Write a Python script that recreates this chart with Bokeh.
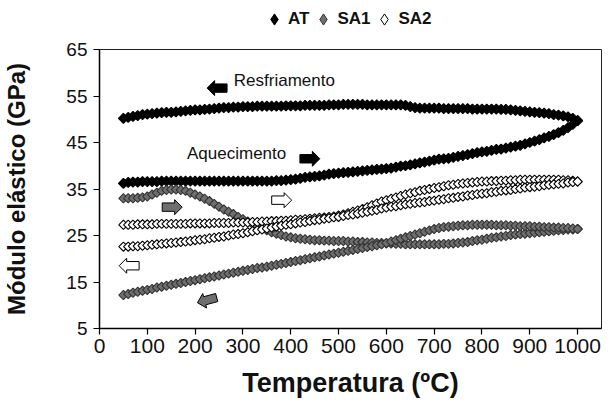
import math
from bokeh.plotting import figure
from bokeh.layouts import column
from bokeh.models import Range1d, FixedTicker, Legend, LegendItem, ColumnDataSource
from bokeh.core.properties import value
from bokeh.embed import file_html
from bokeh.resources import INLINE

# ---------------- data ----------------
temps = [50, 60, 70, 80, 90, 100, 110, 120, 130, 140, 150, 160, 170, 180, 190, 200,
         210, 220, 230, 240, 250, 260, 270, 280, 290, 300, 310, 320, 330, 340, 350,
         360, 370, 380, 390, 400, 410, 420, 430, 440, 450, 460, 470, 480, 490, 500,
         510, 520, 530, 540, 550, 560, 570, 580, 590, 600, 610, 620, 630, 640, 650,
         660, 670, 680, 690, 700, 710, 720, 730, 740, 750, 760, 770, 780, 790, 800,
         810, 820, 830, 840, 850, 860, 870, 880, 890, 900, 910, 920, 930, 940, 950,
         960, 970, 980, 990, 1000]

at_heat = [36.2, 36.4, 36.5, 36.5, 36.6, 36.6, 36.6, 36.6, 36.7, 36.7, 36.7, 36.7, 36.7, 36.7, 36.7, 36.7,
           36.7, 36.7, 36.7, 36.7, 36.7, 36.7, 36.7, 36.7, 36.7, 36.7, 36.7, 36.7, 36.7, 36.7, 36.7,
           36.7, 36.8, 36.8, 36.9, 37.0, 37.1, 37.3, 37.5, 37.6, 37.7, 37.8, 38.0, 38.2, 38.3, 38.4,
           38.5, 38.6, 38.7, 38.8, 38.9, 39.0, 39.1, 39.2, 39.3, 39.4, 39.5, 39.7, 39.9, 40.0, 40.2,
           40.4, 40.6, 40.8, 41.0, 41.2, 41.4, 41.5, 41.6, 41.8, 42.0, 42.2, 42.4, 42.6, 42.8, 43.0,
           43.1, 43.3, 43.5, 43.6, 43.8, 44.0, 44.2, 44.4, 44.7, 45.0, 45.3, 45.6, 46.0, 46.3, 46.7,
           47.1, 47.6, 48.2, 48.9, 49.7]

at_cool = [50.2, 50.4, 50.6, 50.8, 51.0, 51.1, 51.2, 51.3, 51.4, 51.5, 51.5, 51.6, 51.7, 51.8, 51.9, 52.0,
           52.0, 52.1, 52.2, 52.3, 52.4, 52.5, 52.5, 52.6, 52.6, 52.7, 52.7, 52.7, 52.8, 52.8, 52.8,
           52.8, 52.8, 52.8, 52.9, 52.9, 52.9, 52.9, 53.0, 53.0, 53.0, 53.0, 53.0, 53.1, 53.1, 53.1,
           53.2, 53.2, 53.2, 53.2, 53.2, 53.1, 53.1, 53.1, 53.1, 53.1, 53.1, 53.1, 53.1, 53.0, 52.7,
           52.5, 52.4, 52.4, 52.4, 52.4, 52.4, 52.3, 52.3, 52.3, 52.3, 52.3, 52.3, 52.2, 52.2, 52.2,
           52.2, 52.2, 52.2, 52.1, 52.1, 52.0, 51.9, 51.8, 51.7, 51.6, 51.5, 51.4, 51.3, 51.2, 51.0,
           50.9, 50.7, 50.5, 50.2, 49.7]

sa1_heat = [33.0, 33.0, 33.0, 33.1, 33.2, 33.4, 33.8, 34.2, 34.6, 34.8, 34.9, 34.9, 34.8, 34.6, 34.2, 33.8,
            33.4, 32.9, 32.4, 31.8, 31.2, 30.6, 30.1, 29.6, 29.0, 28.5, 28.0, 27.5, 27.0, 26.5, 26.1,
            25.7, 25.4, 25.1, 24.8, 24.6, 24.4, 24.3, 24.2, 24.1, 24.0, 24.0, 23.9, 23.9, 23.8, 23.8,
            23.8, 23.7, 23.7, 23.6, 23.6, 23.5, 23.5, 23.4, 23.4, 23.3, 23.3, 23.2, 23.2, 23.1, 23.1,
            23.1, 23.1, 23.1, 23.1, 23.1, 23.1, 23.2, 23.2, 23.3, 23.4, 23.5, 23.6, 23.8, 24.0, 24.1,
            24.3, 24.5, 24.6, 24.8, 24.9, 25.1, 25.2, 25.3, 25.4, 25.5, 25.6, 25.7, 25.8, 25.9, 26.0,
            26.1, 26.2, 26.3, 26.3, 26.4]

sa1_cool = [12.2, 12.4, 12.7, 12.9, 13.1, 13.3, 13.5, 13.8, 14.0, 14.2, 14.4, 14.6, 14.8, 15.0, 15.2, 15.4,
            15.6, 15.8, 16.0, 16.2, 16.4, 16.6, 16.8, 17.0, 17.2, 17.4, 17.6, 17.8, 18.0, 18.1, 18.3,
            18.5, 18.7, 18.9, 19.1, 19.3, 19.5, 19.7, 19.9, 20.1, 20.3, 20.5, 20.7, 20.9, 21.1, 21.3,
            21.5, 21.7, 21.9, 22.1, 22.3, 22.5, 22.7, 22.9, 23.1, 23.4, 23.7, 24.0, 24.3, 24.6, 24.9,
            25.2, 25.5, 25.8, 26.1, 26.4, 26.6, 26.8, 26.9, 27.0, 27.1, 27.2, 27.2, 27.3, 27.3, 27.3,
            27.3, 27.3, 27.2, 27.2, 27.2, 27.1, 27.1, 27.0, 27.0, 27.0, 26.9, 26.9, 26.8, 26.8, 26.7,
            26.7, 26.6, 26.6, 26.5, 26.4]

sa2_heat = [27.3, 27.3, 27.3, 27.4, 27.4, 27.4, 27.4, 27.5, 27.5, 27.5, 27.5, 27.5, 27.5, 27.5, 27.6, 27.6,
            27.6, 27.6, 27.6, 27.7, 27.7, 27.7, 27.7, 27.8, 27.8, 27.8, 27.8, 27.9, 27.9, 28.0, 28.0,
            28.1, 28.1, 28.2, 28.2, 28.3, 28.4, 28.4, 28.5, 28.6, 28.7, 28.8, 28.9, 29.0, 29.1, 29.3,
            29.5, 29.8, 30.1, 30.4, 30.7, 31.1, 31.5, 31.9, 32.3, 32.6, 32.9, 33.2, 33.5, 33.8, 34.1,
            34.3, 34.6, 34.8, 35.0, 35.2, 35.4, 35.6, 35.8, 35.9, 36.1, 36.2, 36.3, 36.4, 36.5, 36.6,
            36.6, 36.7, 36.7, 36.8, 36.8, 36.9, 36.9, 37.0, 37.0, 37.0, 37.0, 37.0, 37.0, 37.0, 37.0,
            37.0, 36.9, 36.9, 36.8, 36.6]

sa2_cool = [22.6, 22.6, 22.7, 22.7, 22.8, 22.9, 23.0, 23.1, 23.2, 23.3, 23.4, 23.5, 23.6, 23.7, 23.8, 24.0,
            24.1, 24.2, 24.4, 24.5, 24.7, 24.8, 25.0, 25.2, 25.3, 25.5, 25.7, 25.9, 26.1, 26.3, 26.5,
            26.7, 26.9, 27.1, 27.3, 27.4, 27.6, 27.8, 27.9, 28.1, 28.3, 28.4, 28.6, 28.7, 28.9, 29.0,
            29.2, 29.4, 29.5, 29.7, 29.9, 30.1, 30.3, 30.5, 30.8, 31.0, 31.2, 31.3, 31.5, 31.7, 31.8,
            32.0, 32.1, 32.2, 32.4, 32.5, 32.7, 32.8, 33.0, 33.1, 33.3, 33.4, 33.6, 33.7, 33.9, 34.0,
            34.1, 34.3, 34.4, 34.6, 34.7, 34.8, 35.0, 35.1, 35.3, 35.4, 35.5, 35.6, 35.8, 35.9, 36.0,
            36.1, 36.2, 36.4, 36.5, 36.6]

series_names = ["AT", "SA1", "SA2"]
x_ticks = [0, 100, 200, 300, 400, 500, 600, 700, 800, 900, 1000]
y_ticks = [5, 15, 25, 35, 45, 55, 65]

# annotations
note_texts = ["Resfriamento", "Aquecimento"]
note_x = [281, 183]
note_y = [58.3, 42.6]

FONT = "Liberation Sans"
GREY = "#6e6e6e"
W = 611
LEG_H = 40
MAIN_H = 403 - LEG_H

# ---------------- legend strip ----------------
lg = figure(width=W, height=LEG_H, x_range=Range1d(0, 1), y_range=Range1d(0, 1),
            output_backend="svg", toolbar_location=None,
            min_border=0, min_border_left=0, min_border_right=0, min_border_top=0, min_border_bottom=0)
lg.axis.visible = False
lg.grid.visible = False
lg.outline_line_color = None
lg.background_fill_color = "white"
lg.border_fill_color = "white"
# legend proxies: a single point each, kept outside the strip's visible range
proxy = dict(x=[-5], y=[-5])
l_at = lg.scatter(x=proxy["x"], y=proxy["y"], marker="diamond", fill_color="black", line_color="black")
l_sa1 = lg.scatter(x=proxy["x"], y=proxy["y"], marker="diamond", fill_color=GREY, line_color="#333333")
l_sa2 = lg.scatter(x=proxy["x"], y=proxy["y"], marker="diamond", fill_color="white", line_color="black")
legend = Legend(items=[LegendItem(label=series_names[0], renderers=[l_at]),
                       LegendItem(label=series_names[1], renderers=[l_sa1]),
                       LegendItem(label=series_names[2], renderers=[l_sa2])],
                orientation="horizontal", location=(161, 7),
                label_text_font=FONT, label_text_font_size="17px", label_text_font_style="bold",
                label_text_color="#111111", label_height=20,
                glyph_width=28, glyph_height=28, label_standoff=-8, spacing=-1,
                padding=0, margin=0, border_line_alpha=0, background_fill_alpha=0)
lg.add_layout(legend, "center")

# ---------------- main chart ----------------
p = figure(width=W, height=MAIN_H, x_range=Range1d(0, 1050), y_range=Range1d(5, 65),
           output_backend="svg", toolbar_location=None,
           min_border_left=97, min_border_right=10, min_border_top=9, min_border_bottom=75)
p.xgrid.visible = False
p.ygrid.visible = False
p.outline_line_color = "#222222"
p.outline_line_width = 1
p.background_fill_color = "white"
p.border_fill_color = "white"

for ax, ticks in ((p.xaxis, x_ticks), (p.yaxis, y_ticks)):
    ax.ticker = FixedTicker(ticks=ticks)
    ax.axis_line_color = "black"
    ax.axis_line_width = 1.5
    ax.major_tick_line_color = "black"
    ax.major_tick_line_width = 1.2
    ax.major_tick_out = 6
    ax.major_tick_in = 0
    ax.minor_tick_line_color = None
    ax.major_label_text_font = FONT
    ax.major_label_text_color = "#111111"
    ax.axis_label_text_font = FONT
    ax.axis_label_text_font_style = "bold"
    ax.axis_label_text_color = "#111111"

p.xaxis.major_label_text_font_size = "21px"
p.yaxis.major_label_text_font_size = "19px"
p.xaxis.major_label_standoff = 4
p.yaxis.major_label_standoff = 6
p.xaxis.axis_label = "Temperatura (ºC)"
p.yaxis.axis_label = "Módulo elástico (GPa)"
p.xaxis.axis_label_text_font_size = "27px"
p.yaxis.axis_label_text_font_size = "24px"
p.xaxis.axis_label_standoff = 12
p.yaxis.axis_label_standoff = 33

ang = math.pi / 4
src_at = ColumnDataSource(dict(x=temps + temps, y=at_heat + at_cool))
src_sa1 = ColumnDataSource(dict(x=temps + temps, y=sa1_heat + sa1_cool))
src_sa2 = ColumnDataSource(dict(x=temps + temps, y=sa2_heat + sa2_cool))

p.scatter("x", "y", source=src_at, marker="square", angle=ang, size=7,
          fill_color="black", line_color="black", line_width=1.2)
p.scatter("x", "y", source=src_sa1, marker="square", angle=ang, size=6.5,
          fill_color=GREY, line_color="#333333", line_width=1.1)
p.scatter("x", "y", source=src_sa2, marker="square", angle=ang, size=6.5,
          fill_color="white", line_color="black", line_width=1.1)

# block arrows (annotation shapes, built in pixel units and converted to data units)
kx = 1050 / 504.0
ky = 60 / 279.0
arrows = [
    (246, 56.7, 180, "black"),
    (440, 41.5, 0, "black"),
    (152, 31.1, 0, GREY),
    (381, 32.6, 0, "white"),
    (62, 18.5, 180, "white"),
    (225, 11.1, 195, GREY),
]
L, bh, hh, hl = 20.0, 4.2, 7.5, 7.5
shape = [(-L / 2, -bh), (L / 2 - hl, -bh), (L / 2 - hl, -hh), (L / 2, 0),
         (L / 2 - hl, hh), (L / 2 - hl, bh), (-L / 2, bh)]
for cx, cy, deg, col in arrows:
    t = math.radians(deg)
    xs, ys = [], []
    for (sx, sy) in shape:
        rx = sx * math.cos(t) - sy * math.sin(t)
        ry = sx * math.sin(t) + sy * math.cos(t)
        xs.append(cx + rx * kx)
        ys.append(cy + ry * ky)
    p.patch(xs, ys, fill_color=col, line_color="black", line_width=1)

p.text(x=note_x, y=note_y, text=note_texts, text_font=value(FONT), text_font_size="17px",
       text_color="#111111", text_align="left", text_baseline="middle")

layout = column(lg, p, spacing=0)
open("out.html", "w").write(file_html(layout, INLINE))
